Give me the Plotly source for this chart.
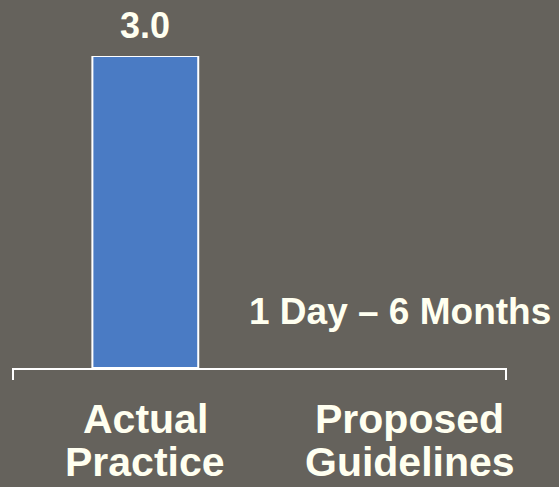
import plotly.graph_objects as go

categories = ["Actual Practice", "Proposed Guidelines"]
values = [3.0, None]
range_note = "1 Day \u2013 6 Months"

BG = "#65625C"
BAR = "#4A7BC4"
TXT = "#FFFFF0"
FONT = "Liberation Sans, Arial, sans-serif"

fig = go.Figure()
fig.add_trace(go.Bar(
    x=categories,
    y=values,
    width=0.4,
    marker=dict(color=BAR, line=dict(color="white", width=2)),
    cliponaxis=False,
    hoverinfo="skip",
))

# value label above the bar
fig.add_annotation(
    x=categories[0], y=values[0], text=f"{values[0]:.1f}",
    showarrow=False, yanchor="bottom", yshift=8,
    font=dict(family=FONT, size=36, color=TXT, weight="bold"),
)

# range note for the guideline category
fig.add_annotation(
    x=categories[1], y=0, text=range_note,
    showarrow=False, yanchor="bottom", yshift=34, xshift=-10,
    font=dict(family=FONT, size=37, color=TXT, weight="bold"),
)

# category labels, one line per annotation
for cat in categories:
    for i, word in enumerate(cat.split(" ")):
        fig.add_annotation(
            x=cat, y=0, yref="y", text=word,
            showarrow=False, yanchor="top", yshift=-26 - 43 * i,
            font=dict(family=FONT, size=41, color=TXT, weight="bold"),
        )

# end ticks of the bracket-like axis
for xp in (0, 1):
    fig.add_shape(
        type="line", xref="paper", yref="paper",
        x0=xp, x1=xp, y0=0, y1=-12, ysizemode="pixel", yanchor=0,
        line=dict(color="white", width=2),
    )

fig.update_layout(
    width=559, height=487,
    margin=dict(l=13, r=53, t=56, b=119),
    paper_bgcolor=BG, plot_bgcolor=BG,
    showlegend=False,
    xaxis=dict(
        type="category", range=[-0.5, 1.363],
        showline=True, linecolor="white", linewidth=2,
        showticklabels=False, ticks="", showgrid=False, zeroline=False,
    ),
    yaxis=dict(range=[0, 3.0], visible=False),
)

fig.write_html(
    "out.html",
    config={"displayModeBar": False},
    post_script="document.body.style.margin='0';document.body.style.overflow='hidden';",
)
